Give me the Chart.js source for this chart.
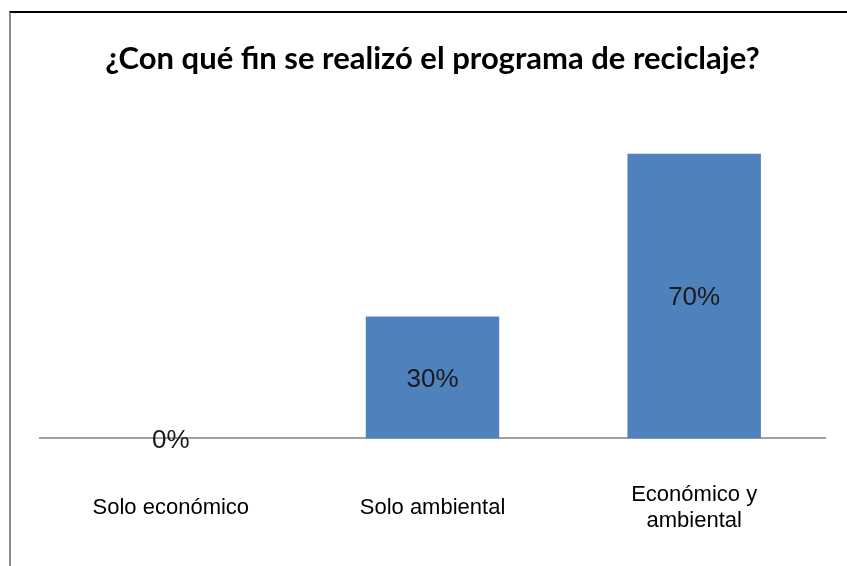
<!DOCTYPE html>
<html>
<head>
<meta charset="utf-8">
<script src="https://cdn.jsdelivr.net/npm/chart.js@4"></script>
<style>
  body { margin: 0; background: #fff; }
  #frame {
    position: absolute; left: 9px; top: 11px; width: 838px; height: 555px;
    border-top: 2px solid #000; border-left: 2px solid #8c8c8c;
    box-sizing: border-box;
  }
  #myChart { position: absolute; left: 0; top: 0; }
</style>
</head>
<body>
<div id="frame"></div>
<canvas id="myChart" width="847" height="566"></canvas>
<script>
var categories = [["Solo económico"], ["Solo ambiental"], ["Económico y", "ambiental"]];
var values = [0, 30, 70];
var chartTitle = "¿Con qué fin se realizó el programa de reciclaje?";

// labels in the middle of each bar, like excel "center"
var barLabels = {
    id: 'barLabels',
    afterDatasetsDraw: function(chart) {
        var ctx = chart.ctx;
        var meta = chart.getDatasetMeta(0);
        ctx.save();
        ctx.font = '26px "Liberation Sans", Arial, sans-serif';
        ctx.fillStyle = '#1a1a1a';
        ctx.textAlign = 'center';
        ctx.textBaseline = 'middle';
        meta.data.forEach(function(bar, i) {
            var y = (bar.y + bar.base) / 2;
            ctx.fillText(values[i] + '%', bar.x, y + 2);
        });
        ctx.restore();
    }
};

var ctx = document.getElementById("myChart").getContext('2d');
var myChart = new Chart(ctx, {
    type: 'bar',
    data: {
        labels: categories,
        datasets: [{
            data: values,
            backgroundColor: '#4F81BD',
            borderWidth: 0,
            barPercentage: 0.51,
            categoryPercentage: 1
        }]
    },
    options: {
        responsive: false,
        animation: false,
        layout: {
            padding: { left: 40, right: 22, top: 0, bottom: -37 }
        },
        plugins: {
            legend: { display: false },
            tooltip: { enabled: false },
            title: {
                display: true,
                text: chartTitle,
                color: '#000',
                font: { family: 'Lato', size: 31, weight: 'bold', lineHeight: 1.2 },
                padding: { top: 40, bottom: 36 }
            }
        },
        scales: {
            x: {
                grid: { display: false, drawTicks: false },
                border: { display: true, color: '#a0a0a0', width: 2 },
                ticks: {
                    color: '#000',
                    padding: 57,
                    crossAlign: 'center',
                    maxRotation: 0,
                    font: { family: '"Liberation Sans", Arial, sans-serif', size: 22, lineHeight: 1.15 }
                }
            },
            y: {
                display: false,
                min: 0,
                max: 80
            }
        }
    },
    plugins: [barLabels]
});
</script>
</body>
</html>
